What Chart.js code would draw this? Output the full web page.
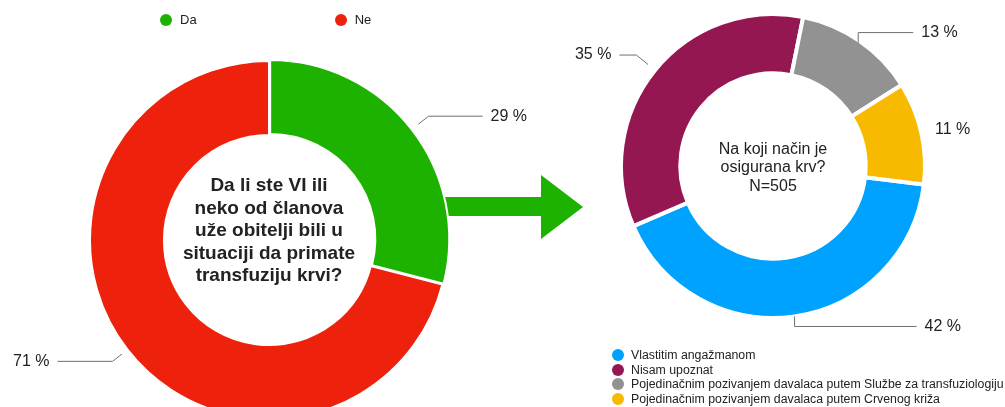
<!DOCTYPE html>
<html>
<head>
<meta charset="utf-8">
<script src="https://cdn.jsdelivr.net/npm/chart.js@4.4.1/dist/chart.umd.min.js"></script>
<style>
  html, body { margin: 0; padding: 0; background: #fff; }
  body { width: 1005px; height: 407px; position: relative; overflow: hidden; font-family: "Liberation Sans", Arial, sans-serif; color: #222; }
  .box { position: absolute; top: 0; height: 407px; }
  #leftBox { left: 0; width: 538px; }
  #rightBox { left: 560px; width: 426px; }
  #arrow { position: absolute; left: 0; top: 0; }
  .legend-row { position: absolute; display: flex; align-items: center; font-size: 13px; }
  .dot { display: inline-block; border-radius: 50%; }
  #legendLeft { top: 12px; left: 160px; }
  #legendLeft .item { display: flex; align-items: center; margin-right: 138px; }
  #legendLeft .dot { width: 12px; height: 12px; margin-right: 8px; }
  #legendRight { position: absolute; left: 612px; top: 348px; font-size: 12.3px; line-height: 14.6px; }
  #legendRight .item { display: flex; align-items: center; }
  #legendRight .dot { width: 12px; height: 12px; margin-right: 7px; }
</style>
</head>
<body>
<svg id="arrow" width="1005" height="407">
  <polygon points="440,197 541,197 541,175 583,207 541,239 541,216 440,216" fill="#1DB100"/>
</svg>
<div id="leftBox" class="box"><canvas id="chartLeft"></canvas></div>
<div id="rightBox" class="box"><canvas id="chartRight"></canvas></div>
<div id="legendLeft" class="legend-row"></div>
<div id="legendRight"></div>

<script>
// left chart: did you or a family member need a transfusion
const leftLabels = ['Da', 'Ne'];
const leftValues = [29, 71];
const leftColors = ['#1DB100', '#EE220C'];
const leftTitle = ['Da li ste VI ili', 'neko od članova', 'uže obitelji bili u', 'situaciji da primate', 'transfuziju krvi?'];

// right chart: how was the blood provided
const rightLabels = [
  'Vlastitim angažmanom',
  'Nisam upoznat',
  'Pojedinačnim pozivanjem davalaca putem Službe za transfuziologiju',
  'Pojedinačnim pozivanjem davalaca putem Crvenog križa'
];
const rightValues = [42, 35, 13, 11];
const rightColors = ['#00A2FF', '#941751', '#929292', '#F8BA00'];
const rightTitle = ['Na koji način je', 'osigurana krv?', 'N=505'];

// text in the hole of the doughnut
const centerTextPlugin = {
  id: 'centerText',
  afterDatasetsDraw(chart, args, opts) {
    const arc = chart.getDatasetMeta(0).data[0];
    if (!arc) return;
    const ctx = chart.ctx;
    ctx.save();
    ctx.fillStyle = '#222';
    ctx.font = opts.font;
    ctx.textAlign = 'center';
    ctx.textBaseline = 'middle';
    const n = opts.lines.length;
    opts.lines.forEach((line, i) => {
      ctx.fillText(line, arc.x, arc.y + opts.dy + (i - (n - 1) / 2) * opts.lineHeight);
    });
    ctx.restore();
  }
};

// percent labels with leader lines
const leaderPlugin = {
  id: 'leaders',
  afterDatasetsDraw(chart, args, opts) {
    const meta = chart.getDatasetMeta(0);
    const values = chart.data.datasets[0].data;
    const ctx = chart.ctx;
    ctx.save();
    ctx.strokeStyle = '#707070';
    ctx.lineWidth = 1;
    ctx.fillStyle = '#222';
    ctx.font = '16px "Liberation Sans", Arial, sans-serif';
    ctx.textBaseline = 'middle';
    meta.data.forEach((arc, i) => {
      const cfg = opts.items[i];
      const p = arc.getProps(['x', 'y', 'startAngle', 'endAngle', 'outerRadius'], true);
      const mid = (p.startAngle + p.endAngle) / 2;
      const cos = Math.cos(mid), sin = Math.sin(mid);
      const r0 = p.outerRadius + cfg.gap;
      const sx = p.x + cos * r0, sy = p.y + sin * r0;
      const text = values[i] + ' %';
      if (cfg.kind === 'none') {
        ctx.textAlign = cos >= 0 ? 'left' : 'right';
        ctx.fillText(text, sx, sy);
        return;
      }
      let ex, ey;
      if (cfg.kind === 'vertical') {
        ex = sx; ey = sy + Math.sign(sin) * cfg.len;
      } else {
        ex = sx + cos * cfg.len; ey = sy + sin * cfg.len;
      }
      const dir = cos >= 0 ? 1 : -1;
      const hx = ex + dir * cfg.h;
      ctx.beginPath();
      ctx.moveTo(sx, sy);
      ctx.lineTo(ex, ey);
      ctx.lineTo(hx, ey);
      ctx.stroke();
      ctx.textAlign = dir > 0 ? 'left' : 'right';
      ctx.fillText(text, hx + dir * 8, ey);
    });
    ctx.restore();
  }
};

function makeChart(id, labels, values, colors, extra) {
  return new Chart(document.getElementById(id), {
    type: 'doughnut',
    data: {
      labels: labels,
      datasets: [{
        data: values,
        backgroundColor: colors,
        borderColor: '#ffffff',
        borderWidth: extra.borderWidth,
        offset: extra.offset
      }]
    },
    options: {
      responsive: true,
      maintainAspectRatio: false,
      animation: false,
      radius: extra.radius,
      cutout: extra.cutout,
      rotation: extra.rotation,
      layout: { padding: extra.padding },
      plugins: {
        legend: { display: false },
        tooltip: { enabled: false },
        centerText: extra.center,
        leaders: { items: extra.leaders }
      }
    },
    plugins: [centerTextPlugin, leaderPlugin]
  });
}

makeChart('chartLeft', leftLabels, leftValues, leftColors, {
  borderWidth: 2,
  offset: [6, 0],
  radius: 179,
  cutout: '58.7%',
  rotation: 0,
  padding: { top: 73 },
  center: { lines: leftTitle, font: 'bold 19px "Liberation Sans", Arial, sans-serif', lineHeight: 22.5, dy: -9 },
  leaders: [
    { kind: 'radial', gap: 10, len: 13, h: 54 },
    { kind: 'radial', gap: 7, len: 12, h: 55 }
  ]
});

makeChart('chartRight', rightLabels, rightValues, rightColors, {
  borderWidth: 4,
  offset: 0,
  radius: 152,
  cutout: '61%',
  rotation: 97,
  padding: { bottom: 75 },
  center: { lines: rightTitle, font: '16px "Liberation Sans", Arial, sans-serif', lineHeight: 18.5, dy: 2 },
  leaders: [
    { kind: 'vertical', gap: 0, len: 10, h: 122 },
    { kind: 'radial', gap: 9, len: 15, h: 17 },
    { kind: 'vertical', gap: -2, len: 10, h: 55 },
    { kind: 'none', gap: 14 }
  ]
});

// legends
function buildLegend(el, labels, colors) {
  labels.forEach((lab, i) => {
    const item = document.createElement('div');
    item.className = 'item';
    item.innerHTML = '<span class="dot" style="background:' + colors[i] + '"></span><span>' + lab + '</span>';
    el.appendChild(item);
  });
}
buildLegend(document.getElementById('legendLeft'), leftLabels, leftColors);
buildLegend(document.getElementById('legendRight'), rightLabels, rightColors);
</script>
</body>
</html>
